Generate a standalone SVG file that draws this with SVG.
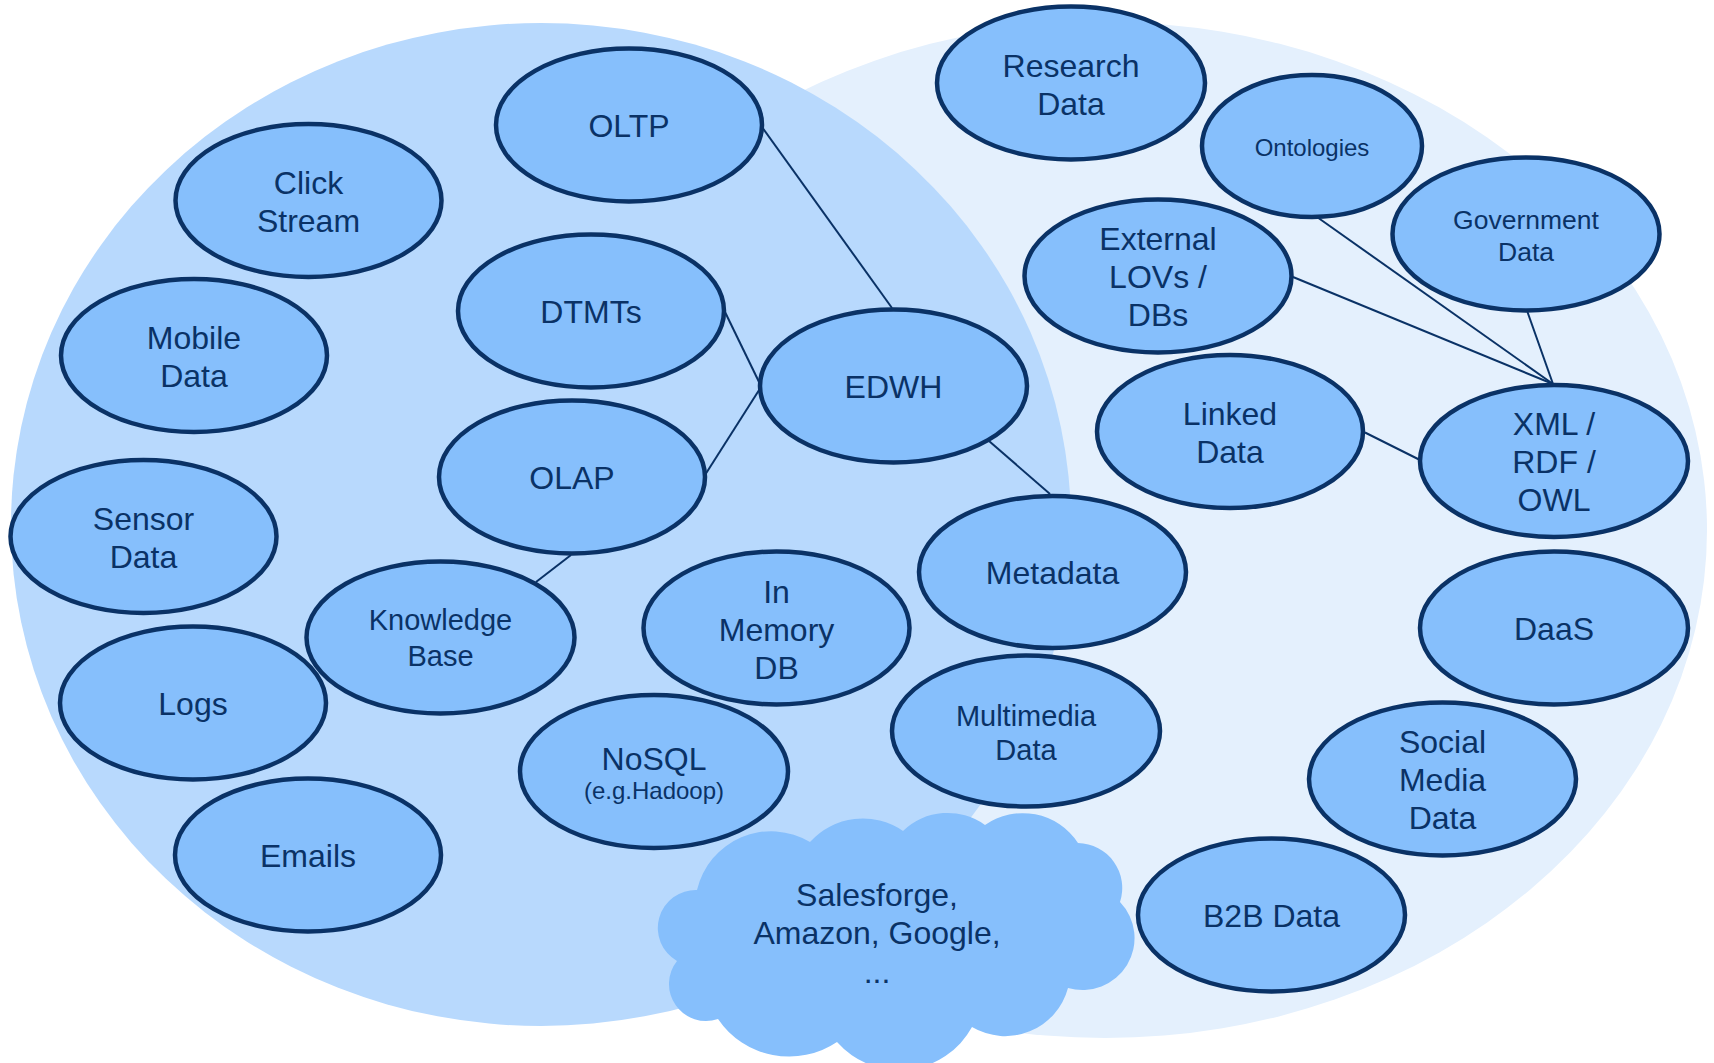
<svg xmlns="http://www.w3.org/2000/svg" width="1714" height="1063" viewBox="0 0 1714 1063">
  <style>
    .node ellipse { fill: #86BFFC; stroke: #0A3266; stroke-width: 4.5; }
    .lbl { font-family: "Liberation Sans", Arial, sans-serif; font-size: 32px; fill: #0A3266; text-anchor: middle; }
    .conn line { stroke: #0A3266; stroke-width: 2; }
  </style>

  <rect width="1714" height="1063" fill="#FFFFFF"/>

  <!-- background regions -->
  <g id="regions">
    <ellipse id="region-external" cx="1105" cy="530" rx="602" ry="508" fill="#E4F0FD"/>
    <ellipse id="region-internal" cx="541" cy="524.5" rx="530" ry="501.5" fill="#B8D9FD"/>
  </g>

  <!-- cloud services -->
  <g id="cloud">
    <path fill="#86BFFC" d="M697,890 A76,76 0 0,1 810,842 A71,71 0 0,1 903,831 A64,64 0 0,1 985,825 A66,66 0 0,1 1078,843 A45,45 0 0,1 1120,902 A52,52 0 0,1 1068,988 A65,65 0 0,1 972,1027 A83,83 0 0,1 837,1042 A86,86 0 0,1 718,1019 A37,37 0 0,1 677,961 A38,38 0 0,1 697,890 Z"/>
    <text class="lbl" x="877" y="906">Salesforge,</text>
    <text class="lbl" x="877" y="944">Amazon, Google,</text>
    <text class="lbl" x="877" y="982.5">...</text>
  </g>

  <!-- connectors -->
  <g id="connectors" class="conn">
    <line x1="762" y1="127" x2="892" y2="308"/>
    <line x1="725" y1="312" x2="760" y2="384"/>
    <line x1="705" y1="475" x2="761" y2="387"/>
    <line x1="571" y1="555" x2="536" y2="582"/>
    <line x1="989" y1="441" x2="1050" y2="494"/>
    <line x1="1293" y1="277" x2="1553" y2="384"/>
    <line x1="1317" y1="217" x2="1553" y2="384"/>
    <line x1="1527.5" y1="312" x2="1553" y2="384"/>
    <line x1="1365" y1="432.5" x2="1420" y2="460"/>
  </g>

  <!-- nodes -->
  <g id="oltp" class="node">
    <ellipse cx="629" cy="125" rx="133" ry="76.5"/>
    <text class="lbl" x="629" y="137">OLTP</text>
  </g>
  <g id="click-stream" class="node">
    <ellipse cx="308.5" cy="200.5" rx="133" ry="76.5"/>
    <text class="lbl" x="308.5" y="193.5">Click</text>
    <text class="lbl" x="308.5" y="231.5">Stream</text>
  </g>
  <g id="mobile-data" class="node">
    <ellipse cx="194" cy="355.5" rx="133" ry="76.5"/>
    <text class="lbl" x="194" y="348.5">Mobile</text>
    <text class="lbl" x="194" y="386.5">Data</text>
  </g>
  <g id="dtmts" class="node">
    <ellipse cx="591" cy="311" rx="133" ry="76.5"/>
    <text class="lbl" x="591" y="323">DTMTs</text>
  </g>
  <g id="olap" class="node">
    <ellipse cx="572" cy="477" rx="133" ry="76.5"/>
    <text class="lbl" x="572" y="489">OLAP</text>
  </g>
  <g id="edwh" class="node">
    <ellipse cx="893.5" cy="386" rx="133.5" ry="76.5"/>
    <text class="lbl" x="893.5" y="398">EDWH</text>
  </g>
  <g id="sensor-data" class="node">
    <ellipse cx="143.5" cy="536.5" rx="133" ry="76.5"/>
    <text class="lbl" x="143.5" y="529.5">Sensor</text>
    <text class="lbl" x="143.5" y="567.5">Data</text>
  </g>
  <g id="knowledge-base" class="node">
    <ellipse cx="440.5" cy="637.5" rx="134" ry="76"/>
    <text class="lbl" x="440.5" y="630" style="font-size:29px">Knowledge</text>
    <text class="lbl" x="440.5" y="666" style="font-size:29px">Base</text>
  </g>
  <g id="logs" class="node">
    <ellipse cx="193" cy="703" rx="133" ry="76.5"/>
    <text class="lbl" x="193" y="715">Logs</text>
  </g>
  <g id="emails" class="node">
    <ellipse cx="308" cy="855" rx="133" ry="76.5"/>
    <text class="lbl" x="308" y="867">Emails</text>
  </g>
  <g id="in-memory-db" class="node">
    <ellipse cx="776.5" cy="628" rx="133" ry="76.5"/>
    <text class="lbl" x="776.5" y="603">In</text>
    <text class="lbl" x="776.5" y="641">Memory</text>
    <text class="lbl" x="776.5" y="679">DB</text>
  </g>
  <g id="nosql" class="node">
    <ellipse cx="654" cy="771.5" rx="134" ry="76.5"/>
    <text class="lbl" x="654" y="769.5">NoSQL</text>
    <text class="lbl" x="654" y="799" style="font-size:24px">(e.g.Hadoop)</text>
  </g>
  <g id="research-data" class="node">
    <ellipse cx="1071" cy="83" rx="134" ry="76.5"/>
    <text class="lbl" x="1071" y="77">Research</text>
    <text class="lbl" x="1071" y="115">Data</text>
  </g>
  <g id="ontologies" class="node">
    <ellipse cx="1312" cy="146" rx="110" ry="71"/>
    <text class="lbl" x="1312" y="155.5" style="font-size:24px">Ontologies</text>
  </g>
  <g id="government-data" class="node">
    <ellipse cx="1526" cy="234" rx="133.5" ry="76.5"/>
    <text class="lbl" x="1526" y="229" style="font-size:26.5px">Government</text>
    <text class="lbl" x="1526" y="260.5" style="font-size:26.5px">Data</text>
  </g>
  <g id="external-lovs" class="node">
    <ellipse cx="1158" cy="276" rx="133.5" ry="76.5"/>
    <text class="lbl" x="1158" y="250">External</text>
    <text class="lbl" x="1158" y="288">LOVs /</text>
    <text class="lbl" x="1158" y="326">DBs</text>
  </g>
  <g id="linked-data" class="node">
    <ellipse cx="1230" cy="431.5" rx="133" ry="76.5"/>
    <text class="lbl" x="1230" y="424.5">Linked</text>
    <text class="lbl" x="1230" y="462.5">Data</text>
  </g>
  <g id="xml-rdf-owl" class="node">
    <ellipse cx="1554" cy="461" rx="134" ry="76"/>
    <text class="lbl" x="1554" y="435">XML /</text>
    <text class="lbl" x="1554" y="473">RDF /</text>
    <text class="lbl" x="1554" y="511">OWL</text>
  </g>
  <g id="metadata" class="node">
    <ellipse cx="1052.5" cy="572" rx="133.5" ry="76"/>
    <text class="lbl" x="1052.5" y="584">Metadata</text>
  </g>
  <g id="daas" class="node">
    <ellipse cx="1554" cy="628" rx="134" ry="76.5"/>
    <text class="lbl" x="1554" y="640">DaaS</text>
  </g>
  <g id="multimedia-data" class="node">
    <ellipse cx="1026" cy="731" rx="134" ry="75.5"/>
    <text class="lbl" x="1026" y="726" style="font-size:29px">Multimedia</text>
    <text class="lbl" x="1026" y="760" style="font-size:29px">Data</text>
  </g>
  <g id="social-media-data" class="node">
    <ellipse cx="1442.5" cy="779" rx="133.5" ry="76.5"/>
    <text class="lbl" x="1442.5" y="753">Social</text>
    <text class="lbl" x="1442.5" y="791">Media</text>
    <text class="lbl" x="1442.5" y="829">Data</text>
  </g>
  <g id="b2b-data" class="node">
    <ellipse cx="1271.5" cy="915" rx="133.5" ry="76.5"/>
    <text class="lbl" x="1271.5" y="927">B2B Data</text>
  </g>
</svg>
